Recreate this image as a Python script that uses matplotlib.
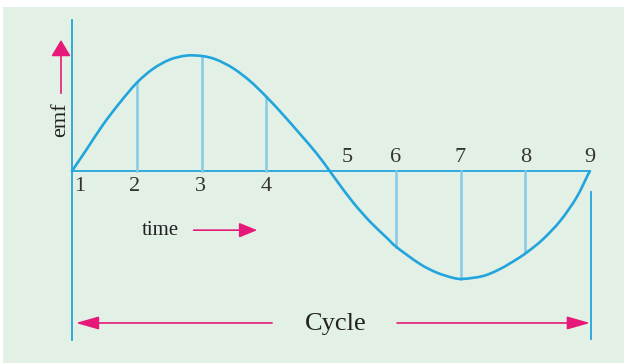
import numpy as np
import matplotlib
matplotlib.use("Agg")
import matplotlib.pyplot as plt
from matplotlib.patches import Rectangle, PathPatch
from matplotlib.path import Path

# emf waveform (time in division units, emf relative to peak)
time_pts = [1.00, 1.23, 1.48, 1.74, 2.00, 2.25, 2.51, 2.77, 3.02, 3.23, 3.49, 3.75,
            4.01, 4.26, 4.52, 4.78, 4.98, 5.09, 5.34, 5.60, 5.86, 6.01, 6.37, 6.63,
            6.88, 7.04, 7.35, 7.61, 7.87, 8.04, 8.27, 8.54, 8.79, 8.97, 9.00]
emf_pts = [0.00, 0.19, 0.40, 0.59, 0.76, 0.88, 0.96, 0.995, 0.99, 0.96, 0.885, 0.775,
           0.635, 0.485, 0.32, 0.15, 0.00, -0.085, -0.27, -0.435, -0.575, -0.655, -0.80, -0.875,
           -0.92, -0.93, -0.905, -0.845, -0.76, -0.695, -0.59, -0.43, -0.23, -0.03, 0.00]

# ordinates drawn at the instants
ord_time = [2, 3, 4, 6, 7, 8]
ord_emf = [0.76, 0.99, 0.635, -0.655, -0.93, -0.695]

tick_labels = ["1", "2", "3", "4", "5", "6", "7", "8", "9"]
tick_pos = [1.12, 1.96, 2.98, 4.0, 5.25, 6.0, 7.0, 8.0, 9.0]

blue = "#22a4dc"
light_blue = "#86c9e6"
pink = "#e6197a"
bg = "#e2f0e5"
serif = ["Liberation Serif", "DejaVu Serif"]


def smooth_path(xs, ys):
    # draw a smooth curve through the read points (Catmull-Rom as Bezier segments)
    p = np.column_stack([xs, ys])
    verts = [p[0]]
    codes = [Path.MOVETO]
    n = len(p)
    for i in range(n - 1):
        p0 = p[max(i - 1, 0)]
        p1 = p[i]
        p2 = p[i + 1]
        p3 = p[min(i + 2, n - 1)]
        verts += [p1 + (p2 - p0) / 6, p2 - (p3 - p1) / 6, p2]
        codes += [Path.CURVE4] * 3
    return Path(verts, codes)


fig = plt.figure(figsize=(6.24, 3.63), dpi=100)
fig.patch.set_facecolor("white")

ax = fig.add_axes([0, 0, 1, 1])
ax.set_facecolor("none")
ax.set_xlim(-0.112, 9.525)
ax.set_ylim(-1.655, 1.474)
ax.axis("off")

# green panel behind the diagram
ax.add_patch(Rectangle((3 / 624, 0), 621 / 624, 356 / 363,
                       transform=ax.transAxes, facecolor=bg,
                       edgecolor="none", zorder=0))

# axes of the diagram
ax.plot([1, 1], [-1.457, 1.30], color=blue, lw=1.3)
ax.plot([1, 9], [0, 0], color=blue, lw=1.3)
ax.plot([9.01, 9.01], [-1.45, -0.18], color=blue, lw=1.3)

# ordinates
for t, e in zip(ord_time, ord_emf):
    ax.plot([t, t], [0, e], color=light_blue, lw=1.8)

# waveform
ax.add_patch(PathPatch(smooth_path(time_pts, emf_pts), facecolor="none",
                       edgecolor=blue, lw=1.9, capstyle="round", zorder=3))

# tick numbers
for lab, x in zip(tick_labels, tick_pos):
    y = -0.13 if x < 4.5 else 0.12
    ax.text(x, y, lab, ha="center", va="center", fontsize=16, family=serif,
            color="#333333")


def arrow(hl, hw):
    return dict(arrowstyle=f"-|>,head_length={hl},head_width={hw}", color=pink,
                lw=1.2, shrinkA=0, shrinkB=0)


# emf label and arrow
ax.text(0.83, 0.44, "emf", rotation=90, ha="center", va="center",
        fontsize=16, family=serif, color="#222222")
ax.annotate("", xy=(0.83, 1.13), xytext=(0.83, 0.67), arrowprops=arrow(1.0, 0.6))

# time label and arrow
ax.text(2.37, -0.51, "time", ha="center", va="center", fontsize=15,
        family=serif, color="#222222")
ax.annotate("", xy=(3.86, -0.51), xytext=(2.88, -0.51), arrowprops=arrow(1.1, 0.45))

# cycle label and arrows
ax.text(5.07, -1.32, "Cycle", ha="center", va="center", fontsize=19,
        family=serif, color="#222222")
ax.annotate("", xy=(1.06, -1.31), xytext=(4.09, -1.31), arrowprops=arrow(1.4, 0.4))
ax.annotate("", xy=(9.0, -1.31), xytext=(6.02, -1.31), arrowprops=arrow(1.4, 0.4))

fig.savefig("out.png", dpi=100, facecolor=fig.get_facecolor())
